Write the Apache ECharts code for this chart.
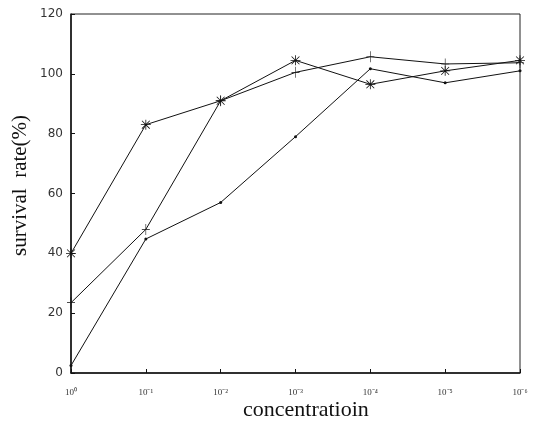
<!DOCTYPE html>
<html><head><meta charset="utf-8">
<script src="https://cdn.jsdelivr.net/npm/echarts@6/dist/echarts.min.js"></script>
<style>html,body{margin:0;padding:0;background:#fff}#c{width:533px;height:431px}</style>
</head><body><div id="c"></div>
<script>
const categories = ['10⁰','10⁻¹','10⁻²','10⁻³','10⁻⁴','10⁻⁵','10⁻⁶'];
const starSeries = [40, 83, 91, 104.5, 96.5, 101, 104.5];
const plusSeries = [23.5, 48, 91, 100.5, 105.7, 103.3, 103.7];
const dotSeries = [2.5, 44.8, 57, 79, 101.7, 97, 101];
const yTicks = [0, 20, 40, 60, 80, 100, 120];
const xTitle = 'concentratioin';
const yTitle = 'survival  rate(%)';

const starPath = 'path://M0 9.2L20 9.2L20 10.8L0 10.8Z M9.2 0L10.8 0L10.8 20L9.2 20Z M1.6 2.7L2.7 1.6L18.4 17.3L17.3 18.4Z M17.3 1.6L18.4 2.7L2.7 18.4L1.6 17.3Z';
const plusPath = 'path://M0 9.4L20 9.4L20 10.6L0 10.6Z M9.3 0L10.7 0L10.7 20L9.3 20Z';

const chart = echarts.init(document.getElementById('c'));
const lineStyle = {color:'#111', width:1};
chart.setOption({
  animation:false,
  backgroundColor:'#fff',
  grid:{left:71, right:13, top:14, bottom:58, show:true, borderColor:'#222', borderWidth:1},
  graphic:[
    {type:'text', left:243, top:399, style:{text:xTitle, font:'22px "Liberation Serif"', fill:'#111'}},
    {type:'text', x:10, y:256, rotation:Math.PI/2,
      style:{text:yTitle, font:'21px "Liberation Serif"', fill:'#111', textVerticalAlign:'top'}}
  ],
  xAxis:{type:'category', data:categories, boundaryGap:false,
    axisLine:{lineStyle:{color:'#111', width:1.5}},
    axisTick:{inside:true, length:4, lineStyle:{color:'#111'}},
    axisLabel:{fontFamily:'Liberation Serif', fontSize:9, color:'#333', margin:15},
    splitLine:{show:false}},
  yAxis:{type:'value', min:0, max:120, interval:20,
    axisLine:{show:true, lineStyle:{color:'#111', width:1.5}},
    axisTick:{show:true, inside:true, length:4, lineStyle:{color:'#111'}},
    axisLabel:{fontFamily:'DejaVu Sans', fontSize:12, color:'#333', margin:8,
      formatter:v=>yTicks.includes(v)?String(v):''},
    splitLine:{show:false}},
  series:[
    {type:'line', data:starSeries, symbol:starPath, symbolSize:10, showAllSymbol:true,
      lineStyle:lineStyle, itemStyle:{color:'#111'}},
    {type:'line', data:plusSeries, symbol:plusPath, symbolSize:[8,11], showAllSymbol:true,
      lineStyle:lineStyle, itemStyle:{color:'#111'}},
    {type:'line', data:dotSeries, symbol:'circle', symbolSize:3, showAllSymbol:true,
      lineStyle:lineStyle, itemStyle:{color:'#111'}}
  ]
});
</script></body></html>
